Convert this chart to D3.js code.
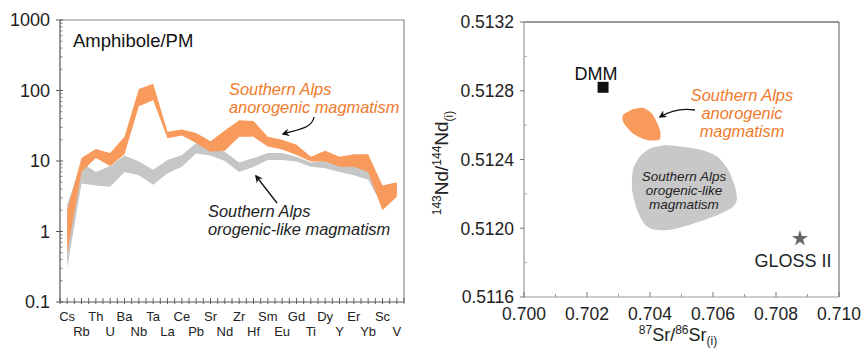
<!DOCTYPE html>
<html>
<head>
<meta charset="utf-8">
<script src="https://cdn.jsdelivr.net/npm/d3@7/dist/d3.min.js"></script>
<style>
  body { margin: 0; background: #fff; }
  svg { font-family: "Liberation Sans", Arial, sans-serif; }
</style>
</head>
<body>
<svg id="chart" width="861" height="349"></svg>
<script>
// --- left panel: amphibole / primitive mantle
const elements = ["Cs","Rb","Th","U","Ba","Nb","Ta","La","Ce","Pb","Sr","Nd","Zr","Hf","Sm","Eu","Gd","Ti","Dy","Y","Er","Yb","Sc","V"];
const anoHigh = [2.0, 11, 14.8, 13, 22, 105, 125, 26, 28, 25, 19, 27, 38, 37, 22, 20, 17, 11.5, 14, 11.5, 12.5, 12.5, 4.5, 5];
const anoLow  = [0.5, 7, 11, 8.5, 12.5, 60, 73, 21, 23, 18, 13.5, 14, 22, 22, 16, 14.5, 12.2, 9.8, 9.8, 8.3, 8.3, 7, 2.0, 3.1];
const orgHigh = [2.4, 9.5, 7, 8.5, 12, 9.8, 7.5, 10.3, 12.2, 18, 16, 13.5, 9.5, 11, 13, 13, 11.5, 9.5, 10, 8.5, 9, 9, 3.5, 4.5];
const orgLow  = [0.3, 4.8, 4.5, 4.3, 7, 6.3, 4.6, 6.7, 8.3, 12.8, 12, 10, 7, 8.2, 10.3, 10.3, 9.8, 8.3, 7.9, 7, 6.3, 5.4, 2.3, 3.5];
const pmTicks = [0.1, 1, 10, 100, 1000];

// --- right panel: Sr-Nd isotopes
const srTicks = [0.700, 0.702, 0.704, 0.706, 0.708, 0.710];
const ndTicks = [0.5116, 0.5120, 0.5124, 0.5128, 0.5132];
const dmm = [0.70251, 0.51282];
const gloss = [0.70876, 0.51194];
const anoFieldSr = [0.70315, 0.70342, 0.70379, 0.70405, 0.70421, 0.70432, 0.70432, 0.70410, 0.70379, 0.70347, 0.70321, 0.70313];
const anoFieldNd = [0.51266, 0.51269, 0.51270, 0.51267, 0.51262, 0.51257, 0.51252, 0.51251, 0.51252, 0.51255, 0.51260, 0.51263];
const orgFieldSr = [0.70400, 0.70441, 0.70495, 0.70559, 0.70613, 0.70648, 0.70670, 0.70676, 0.70660, 0.70600, 0.70527, 0.70463, 0.70416, 0.70384, 0.70359, 0.70343, 0.70346, 0.70368];
const orgFieldNd = [0.512464, 0.512482, 0.512476, 0.512458, 0.512418, 0.512342, 0.512242, 0.512167, 0.51212, 0.512067, 0.512021, 0.511991, 0.511991, 0.512021, 0.512108, 0.512225, 0.512342, 0.512418];

const ORANGE = "#f89a5c", ORANGE_TXT = "#f07a2c", GREY = "#c6c6c6";

const svg = d3.select("#chart");
const defs = svg.append("defs");
defs.append("marker")
    .attr("id", "arrow")
    .attr("viewBox", "0 0 10 10")
    .attr("refX", 8).attr("refY", 5)
    .attr("markerWidth", 6).attr("markerHeight", 6)
    .attr("orient", "auto-start-reverse")
  .append("path")
    .attr("d", "M0,0 L10,5 L0,10 L3,5 Z")
    .attr("fill", "#111");

// ================= left panel =================
const L = { left: 60, right: 404, top: 20, bottom: 302 };
const x = d3.scalePoint().domain(elements).range([L.left, L.right]).padding(0.5);
const y = d3.scaleLog().domain([0.1, 1000]).range([L.bottom, L.top]);
const left = svg.append("g");

const band = (hi, lo) => d3.area()
    .x((d, i) => x(elements[i]))
    .y0((d, i) => y(lo[i]))
    .y1((d, i) => y(hi[i]));

left.append("path").datum(elements).attr("d", band(orgHigh, orgLow)).attr("fill", GREY);
left.append("path").datum(elements).attr("d", band(anoHigh, anoLow)).attr("fill", ORANGE);

// frame
left.append("path")
    .attr("d", `M${L.left},${L.top}H${L.right}V${L.bottom}`)
    .attr("fill", "none").attr("stroke", "#8a8a8a").attr("stroke-width", 1.2);
left.append("path")
    .attr("d", `M${L.left},${L.top}V${L.bottom}H${L.right}`)
    .attr("fill", "none").attr("stroke", "#555").attr("stroke-width", 1.2);

// y axis ticks
const minor = [];
pmTicks.slice(0, -1).forEach(t => { for (let k = 2; k <= 9; k++) minor.push(t * k); });
left.selectAll(".minor").data(minor).join("line")
    .attr("x1", L.left).attr("x2", L.left + 2.5)
    .attr("y1", d => y(d)).attr("y2", d => y(d))
    .attr("stroke", "#666").attr("stroke-width", 0.8);
left.selectAll(".major").data(pmTicks).join("line")
    .attr("x1", L.left - 4).attr("x2", L.left + 3)
    .attr("y1", d => y(d)).attr("y2", d => y(d))
    .attr("stroke", "#555").attr("stroke-width", 1);
left.selectAll(".ylab").data(pmTicks).join("text")
    .attr("x", L.left - 10).attr("y", d => y(d))
    .attr("dy", "0.36em").attr("text-anchor", "end")
    .attr("font-size", 18).attr("fill", "#222")
    .text(d => d3.format("")(d));

// x axis ticks at every element and half-way between
const step = x.step();
const halfTicks = d3.range(elements.length * 2 + 1).map(i => L.left + i * step / 2);
left.selectAll(".xt").data(halfTicks).join("line")
    .attr("x1", d => d).attr("x2", d => d)
    .attr("y1", L.bottom - 4).attr("y2", L.bottom + 2)
    .attr("stroke", "#555").attr("stroke-width", 0.9);
left.selectAll(".xlab").data(elements).join("text")
    .attr("x", d => x(d))
    .attr("y", (d, i) => i % 2 === 0 ? 321 : 336)
    .attr("text-anchor", "middle")
    .attr("font-size", 13).attr("fill", "#222")
    .text(d => d);

left.append("text").attr("x", 73).attr("y", 47)
    .attr("font-size", 18.5).attr("fill", "#111")
    .text("Amphibole/PM");

// annotations
const anoLbl = left.append("text").attr("font-size", 16.4).attr("font-style", "italic").attr("fill", ORANGE_TXT);
anoLbl.append("tspan").attr("x", 229).attr("y", 95).text("Southern Alps");
anoLbl.append("tspan").attr("x", 229).attr("y", 113).text("anorogenic magmatism");
left.append("path")
    .attr("d", "M314,117 C312,128 300,129 283,134")
    .attr("fill", "none").attr("stroke", "#111").attr("stroke-width", 1.3)
    .attr("marker-end", "url(#arrow)");

const orgLbl = left.append("text").attr("font-size", 16.4).attr("font-style", "italic").attr("fill", "#222");
orgLbl.append("tspan").attr("x", 208).attr("y", 217).text("Southern Alps");
orgLbl.append("tspan").attr("x", 208).attr("y", 235).text("orogenic-like magmatism");
left.append("path")
    .attr("d", "M277,203 L256,176")
    .attr("fill", "none").attr("stroke", "#111").attr("stroke-width", 1.3)
    .attr("marker-end", "url(#arrow)");

// ================= right panel =================
const R = { left: 524, right: 839, top: 22, bottom: 297 };
const sx = d3.scaleLinear().domain([0.700, 0.710]).range([R.left, R.right]);
const sy = d3.scaleLinear().domain([0.5116, 0.5132]).range([R.bottom, R.top]);
const right = svg.append("g");

const blob = d3.line().x(d => sx(d[0])).y(d => sy(d[1])).curve(d3.curveCardinalClosed.tension(0.3));
right.append("path").datum(d3.zip(orgFieldSr, orgFieldNd)).attr("d", blob).attr("fill", "#c8c8c8");
right.append("path").datum(d3.zip(anoFieldSr, anoFieldNd)).attr("d", blob).attr("fill", ORANGE);

// frame
right.append("path").attr("d", `M${R.left},${R.top}H${R.right}`).attr("stroke", "#333").attr("stroke-width", 1.2);
right.append("path").attr("d", `M${R.right},${R.top}V${R.bottom}`).attr("stroke", "#777").attr("stroke-width", 1.2);
right.append("path").attr("d", `M${R.left},${R.top}V${R.bottom}H${R.right}`)
    .attr("fill", "none").attr("stroke", "#999").attr("stroke-width", 1.2);

// x ticks
const srMinor = d3.range(5).map(i => srTicks[i] + 0.001);
right.selectAll(".sxm").data(srTicks).join("line")
    .attr("x1", d => sx(d)).attr("x2", d => sx(d))
    .attr("y1", R.bottom).attr("y2", R.bottom - 5)
    .attr("stroke", "#777");
right.selectAll(".sxn").data(srMinor).join("line")
    .attr("x1", d => sx(d)).attr("x2", d => sx(d))
    .attr("y1", R.bottom).attr("y2", R.bottom - 3)
    .attr("stroke", "#999");
right.selectAll(".sxl").data(srTicks).join("text")
    .attr("x", d => sx(d)).attr("y", 320)
    .attr("text-anchor", "middle").attr("font-size", 17.5).attr("fill", "#222")
    .text(d => d3.format(".3f")(d));

// y ticks
const ndMinor = d3.range(4).map(i => ndTicks[i] + 0.0002);
right.selectAll(".sym").data(ndTicks).join("line")
    .attr("x1", R.left - 4).attr("x2", R.left)
    .attr("y1", d => sy(d)).attr("y2", d => sy(d))
    .attr("stroke", "#777");
right.selectAll(".syn").data(ndMinor).join("line")
    .attr("x1", R.left).attr("x2", R.left + 3)
    .attr("y1", d => sy(d)).attr("y2", d => sy(d))
    .attr("stroke", "#aaa");
right.selectAll(".syl").data(ndTicks).join("text")
    .attr("x", R.left - 10).attr("y", d => sy(d)).attr("dy", "0.36em")
    .attr("text-anchor", "end").attr("font-size", 17.5).attr("fill", "#222")
    .text(d => d3.format(".4f")(d));

// axis titles
const xt = right.append("text").attr("x", 678).attr("y", 341)
    .attr("text-anchor", "middle").attr("font-size", 18).attr("fill", "#222");
xt.append("tspan").attr("font-size", 12).attr("dy", -7).text("87");
xt.append("tspan").attr("dy", 7).text("Sr/");
xt.append("tspan").attr("font-size", 12).attr("dy", -7).text("86");
xt.append("tspan").attr("dy", 7).text("Sr");
xt.append("tspan").attr("font-size", 12).attr("dy", 4).text("(i)");

const yt = right.append("text")
    .attr("transform", "translate(448,163) rotate(-90)")
    .attr("text-anchor", "middle").attr("font-size", 19).attr("fill", "#222");
yt.append("tspan").attr("font-size", 12).attr("dy", -7).text("143");
yt.append("tspan").attr("dy", 7).text("Nd/");
yt.append("tspan").attr("font-size", 12).attr("dy", -7).text("144");
yt.append("tspan").attr("dy", 7).text("Nd");
yt.append("tspan").attr("font-size", 12).attr("dy", 5).text("(i)");

// reference points
right.append("path")
    .attr("transform", `translate(${sx(dmm[0])},${sy(dmm[1])})`)
    .attr("d", d3.symbol(d3.symbolSquare, 120)).attr("fill", "#111");
right.append("text").attr("x", sx(dmm[0]) - 7).attr("y", 80)
    .attr("text-anchor", "middle").attr("font-size", 18).attr("fill", "#111").text("DMM");
right.append("path")
    .attr("transform", `translate(${sx(gloss[0])},${sy(gloss[1])})`)
    .attr("d", d3.symbol(d3.symbolStar, 80)).attr("fill", "#666");
right.append("text").attr("x", sx(gloss[0]) - 7).attr("y", 267)
    .attr("text-anchor", "middle").attr("font-size", 18).attr("fill", "#222").text("GLOSS II");

// field labels
const oLbl = right.append("text").attr("text-anchor", "middle").attr("font-size", 16.4)
    .attr("font-style", "italic").attr("fill", ORANGE_TXT);
["Southern Alps", "anorogenic", "magmatism"].forEach((t, i) =>
    oLbl.append("tspan").attr("x", 742).attr("y", 101 + i * 18).text(t));
right.append("path")
    .attr("d", "M695,110 Q676,107 660,117")
    .attr("fill", "none").attr("stroke", "#111").attr("stroke-width", 1.3)
    .attr("marker-end", "url(#arrow)");

const gLbl = right.append("text").attr("text-anchor", "middle").attr("font-size", 13.5)
    .attr("font-style", "italic").attr("fill", "#222");
["Southern Alps", "orogenic-like", "magmatism"].forEach((t, i) =>
    gLbl.append("tspan").attr("x", 684).attr("y", 181 + i * 14).text(t));
</script>
</body>
</html>
